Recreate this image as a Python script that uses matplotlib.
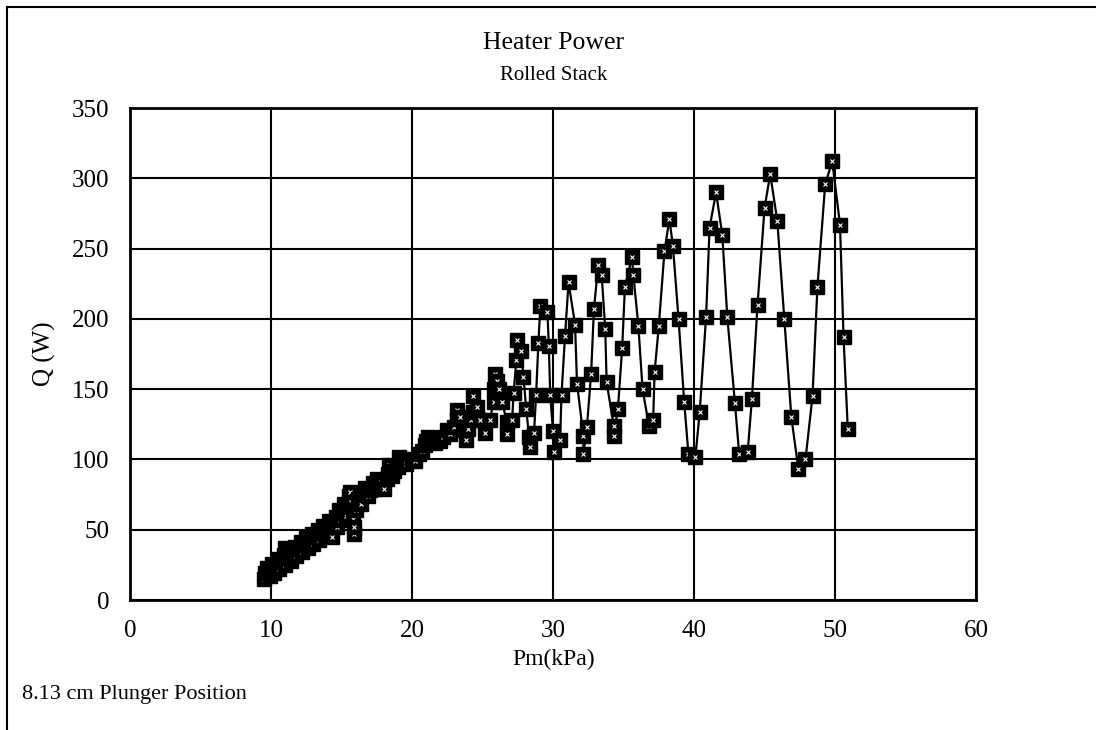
import matplotlib
matplotlib.use("Agg")
import matplotlib.pyplot as plt
from matplotlib.lines import Line2D

plt.rcParams['font.family'] = ['Liberation Serif', 'DejaVu Serif']

# Pm (kPa) and heater power Q (W), in measurement order
pm = [9.5, 9.6, 9.7, 9.9, 10.0, 10.1, 10.2, 10.4, 10.5, 10.6,
      10.7, 10.9, 11.0, 11.0, 11.1, 11.3, 11.4, 11.5, 11.7, 11.8,
      11.9, 12.1, 12.2, 12.3, 12.5, 12.6, 12.7, 12.9, 13.0, 13.1,
      13.3, 13.4, 13.5, 13.7, 13.8, 13.9, 14.1, 14.2, 14.3, 14.4,
      14.6, 14.7, 14.8, 14.9, 15.1, 15.2, 15.3, 15.4, 15.5, 15.6,
      15.7, 15.8, 15.85, 15.9, 16.0, 16.2, 16.4, 16.5, 16.7, 16.9,
      17.0, 17.2, 17.4, 17.5, 17.7, 17.8, 18.0, 18.2, 18.3, 18.4,
      18.6, 18.7, 19.0, 19.1, 19.3, 19.6, 20.0, 20.2, 20.5, 20.7,
      20.9, 21.0, 21.1, 21.3, 21.6, 22.0, 22.2, 22.45, 22.7, 23.0,
      23.2, 23.2, 23.4, 23.6, 23.8, 24.0, 24.2, 24.35, 24.35, 24.6,
      24.8, 25.2, 25.5, 25.8, 25.8, 25.9, 26.0, 26.2, 26.4, 26.7,
      26.7, 27.1, 27.2, 27.4, 27.45, 27.75, 27.9, 28.1, 28.3, 28.4,
      28.65, 28.8, 28.96, 29.1, 29.6, 29.7, 29.8, 30.0, 30.1, 30.5,
      30.6, 30.85, 31.1, 31.56, 31.7, 32.15, 32.15, 32.4, 32.7, 32.9,
      33.2, 33.45, 33.7, 33.8, 34.3, 34.3, 34.6, 34.9, 35.1, 35.6,
      35.7, 36.05, 36.35, 36.8, 37.1, 37.2, 37.5, 37.9, 38.25, 38.5,
      38.9, 39.3, 39.6, 40.1, 40.4, 40.85, 41.1, 41.56, 42.0, 42.36,
      42.9, 43.2, 43.8, 44.1, 44.5, 45.0, 45.4, 45.9, 46.4, 46.9,
      47.4, 47.9, 48.4, 48.75, 49.3, 49.8, 50.35, 50.6, 50.9]

q = [15, 19, 23, 17, 21, 26, 19, 24, 29, 22,
     27, 32, 25, 37, 30, 35, 28, 33, 38, 31,
     36, 41, 34, 39, 44, 37, 42, 47, 40, 45,
     50, 43, 48, 53, 46, 51, 56, 49, 45, 54,
     59, 52, 64, 57, 62, 68, 60, 66, 74, 77,
     70, 58, 47, 52, 64, 72, 68, 75, 80, 74,
     78, 83, 79, 86, 81, 84, 79, 86, 90, 96,
     88, 92, 95, 102, 98, 97, 100, 99, 104, 106,
     110, 113, 116, 115, 112, 113, 116, 121, 118, 123,
     135, 129, 130, 121, 114, 122, 128, 134, 145, 137,
     128, 119, 128, 141, 150, 161, 156, 150, 141, 127,
     118, 128, 147, 171, 185, 177, 159, 136, 116, 109,
     119, 146, 183, 209, 205, 181, 146, 120, 105, 114,
     146, 188, 226, 196, 154, 117, 104, 123, 161, 207,
     238, 231, 193, 155, 124, 117, 136, 179, 223, 244,
     231, 195, 150, 124, 128, 162, 195, 248, 271, 252,
     200, 141, 104, 102, 134, 201, 265, 290, 260, 201,
     140, 104, 105, 143, 210, 279, 303, 270, 200, 130,
     93, 100, 145, 223, 296, 312, 267, 187, 122]

x_ticks = [0, 10, 20, 30, 40, 50, 60]
y_ticks = [0, 50, 100, 150, 200, 250, 300, 350]

fig = plt.figure(figsize=(10.96, 7.30), dpi=100)
ax = fig.add_axes([0.1186, 0.178, 0.772, 0.674])

ax.plot(pm, q, color='black', lw=1.6, zorder=2)
# patterned square markers, drawn point by point so later ones cover earlier ones
for x, y in zip(pm, q):
    ax.plot([x], [y], ls='none', marker='s', markersize=9.5,
            markerfacecolor='black', markeredgecolor='black', zorder=3)
    ax.plot([x], [y], ls='none', marker='x', markersize=3.2, mew=0.8,
            color='white', zorder=3)

ax.set_xlim(0, 60)
ax.set_ylim(0, 350)
ax.set_xticks(x_ticks)
ax.set_yticks(y_ticks)
ax.grid(True, color='black', lw=1.5)
ax.set_axisbelow(True)
for s in ax.spines.values():
    s.set_linewidth(2)
ax.tick_params(length=0, labelsize=18)
ax.tick_params(axis='x', pad=14)
ax.tick_params(axis='y', pad=15)

fig.text(0.505, 0.941, 'Heater Power', ha='center', va='center', fontsize=18.5)
fig.text(0.505, 0.897, 'Rolled Stack', ha='center', va='center', fontsize=15)
fig.text(0.505, 0.096, 'Pm(kPa)', ha='center', va='center', fontsize=17)
fig.text(0.041, 0.515, 'Q (W)', ha='center', va='center', rotation=90, fontsize=18)
fig.text(0.02, 0.049, '8.13 cm Plunger Position', ha='left', va='center', fontsize=16)

# outer frame (top and left only)
fig.add_artist(Line2D([0.0064, 0.0064], [0.0, 0.990], transform=fig.transFigure,
                      color='black', lw=1.5))
fig.add_artist(Line2D([0.0064, 1.0], [0.990, 0.990], transform=fig.transFigure,
                      color='black', lw=1.5))

fig.savefig('out.png', dpi=100)
